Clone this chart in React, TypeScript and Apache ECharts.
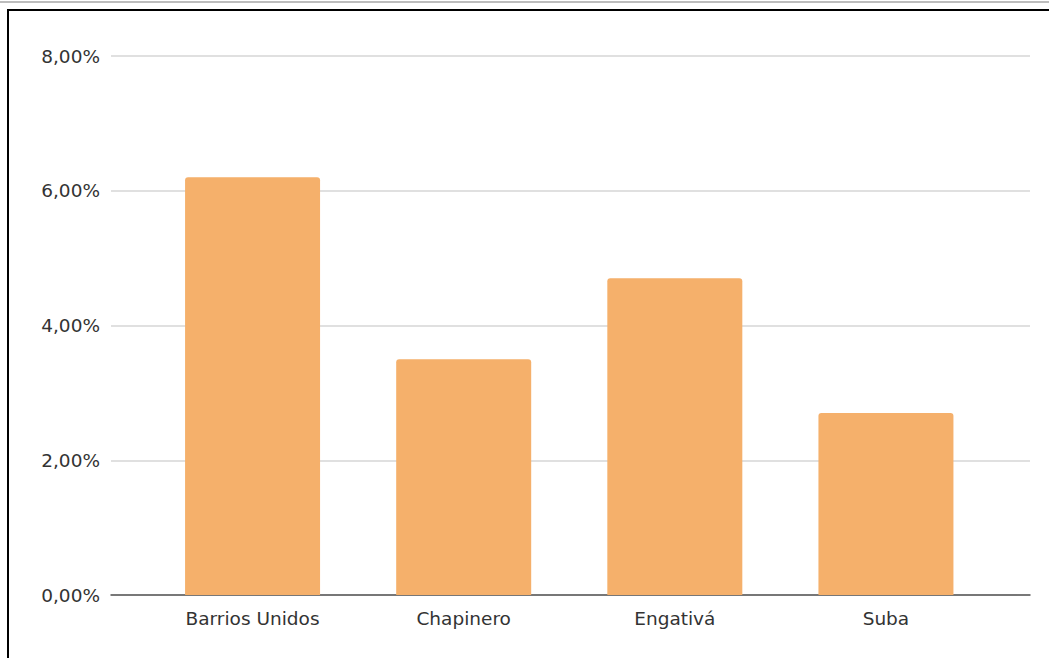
import React, { useEffect, useRef } from "react";
import * as echarts from "echarts";

const categories = ["Barrios Unidos", "Chapinero", "Engativá", "Suba"];
const values = [6.2, 3.5, 4.7, 2.7];
const yTicks = { min: 0, max: 8, interval: 2 };

const FONT = "DejaVu Sans";

export default function App() {
  const ref = useRef<HTMLDivElement>(null);
  useEffect(() => {
    if (!ref.current) return;
    const chart = echarts.init(ref.current, undefined, { renderer: "svg" });
    chart.setOption({
      animation: false,
      grid: [
        { left: 111, right: 19, top: 56, bottom: 63 },
        { left: 147, right: 57.5, top: 56, bottom: 63 },
      ],
      xAxis: [
        {
          gridIndex: 0,
          type: "value",
          min: 0,
          max: 1,
          axisLine: { show: true, lineStyle: { color: "#555", width: 1.5 } },
          axisTick: { show: false },
          axisLabel: { show: false },
          splitLine: { show: false },
        },
        {
          gridIndex: 1,
          type: "category",
          data: categories,
          axisLine: { show: false },
          axisTick: { show: false },
          axisLabel: {
            color: "#333",
            fontFamily: FONT,
            fontSize: 18.5,
            margin: 14,
          },
        },
      ],
      yAxis: [
        {
          gridIndex: 0,
          type: "value",
          min: yTicks.min,
          max: yTicks.max,
          interval: yTicks.interval,
          axisLine: { show: false },
          axisTick: { show: false },
          axisLabel: {
            color: "#333",
            fontFamily: FONT,
            fontSize: 18.5,
            margin: 11,
            formatter: (v: number) => v.toFixed(2).replace(".", ",") + "%",
          },
          splitLine: { lineStyle: { color: "#d6d6d6", width: 1.5 } },
        },
        {
          gridIndex: 1,
          type: "value",
          min: yTicks.min,
          max: yTicks.max,
          show: false,
          splitLine: { show: false },
        },
      ],
      series: [
        {
          type: "bar",
          xAxisIndex: 1,
          yAxisIndex: 1,
          data: values,
          barWidth: 135,
          itemStyle: { color: "#F5B06B", borderRadius: [3, 3, 0, 0] },
        },
      ],
    });
    return () => chart.dispose();
  }, []);

  return (
    <div
      style={{
        position: "fixed",
        left: 0,
        top: 0,
        width: 1049,
        height: 658,
        overflow: "hidden",
        background: "#fff",
      }}
    >
      <div
        style={{
          position: "absolute",
          left: 0,
          top: 1,
          width: 1049,
          height: 2,
          background: "#bdbdbd",
        }}
      />
      <div
        style={{
          position: "absolute",
          left: 7,
          top: 9,
          width: 1100,
          height: 700,
          borderLeft: "2.5px solid #000",
          borderTop: "2.5px solid #000",
        }}
      />
      <div
        ref={ref}
        style={{ position: "absolute", left: 0, top: 0, width: 1049, height: 658 }}
      />
    </div>
  );
}
